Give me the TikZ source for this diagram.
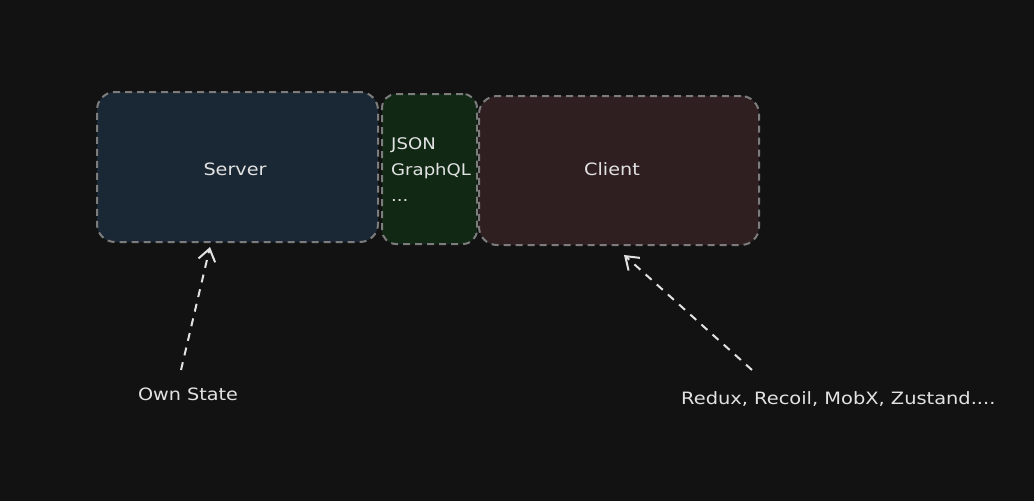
\documentclass[tikz,border=0pt]{standalone}
\usepackage{fontspec}
\setmainfont{DejaVu Sans}
\usetikzlibrary{arrows.meta}
\definecolor{bg}{HTML}{121212}
\definecolor{serverfill}{HTML}{1A2734}
\definecolor{jsonfill}{HTML}{102814}
\definecolor{clientfill}{HTML}{2F1F21}
\definecolor{edge}{HTML}{7C7C7C}
\definecolor{ink}{HTML}{E2E2E2}
\tikzset{
  box/.style={draw=edge, line width=2pt, dash pattern=on 7pt off 5pt, rounded corners=18pt, inner sep=0pt},
  lbl/.style={text=ink, font=\fontsize{17}{21}\selectfont, inner sep=0pt, xscale=1.13},
  arr/.style={draw=ink, line width=2pt, dash pattern=on 8pt off 7pt, -{Straight Barb[length=12pt,width=17pt,line width=2pt]}}
}
\begin{document}
\begin{tikzpicture}[x=1pt,y=-1pt]
\useasboundingbox[fill=bg] (0,0) rectangle (1034,501);
\node[box, fill=serverfill, minimum width=281pt, minimum height=150pt] (server) at (237.5,167) {};
\node[box, fill=jsonfill, minimum width=95pt, minimum height=150pt, rounded corners=14pt] (json) at (429.5,169) {};
\node[box, fill=clientfill, minimum width=280pt, minimum height=149pt] (client) at (619,170.5) {};
\node[lbl] (servertxt) at (235,169) {Server};
\node[lbl] (clienttxt) at (612,169) {Client};
\node[lbl, anchor=north west, align=left, font=\fontsize{16}{26}\selectfont] (jsontxt) at (391,137) {JSON\\GraphQL\\...};
\node[lbl] (own) at (188,394) {Own State};
\node[lbl, anchor=west, xscale=1.01] (redux) at (681,399) {Redux, Recoil, MobX, Zustand....};
\coordinate (ownstart) at (181,370);
\coordinate (ownend) at (210,247);
\coordinate (reduxstart) at (752,370);
\coordinate (reduxend) at (624,255);
\draw[arr] (ownstart) -- (ownend);
\draw[arr] (reduxstart) -- (reduxend);
\end{tikzpicture}
\end{document}
